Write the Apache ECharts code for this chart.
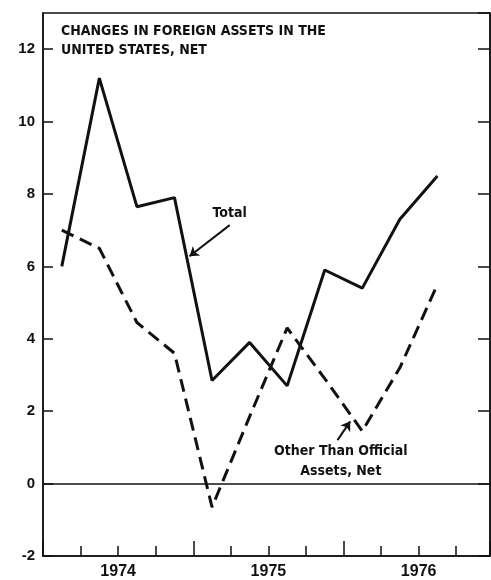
<!DOCTYPE html>
<html>
<head>
<meta charset="utf-8">
<script src="https://cdn.jsdelivr.net/npm/echarts@6/dist/echarts.min.js"></script>
<style>
  html, body { margin: 0; padding: 0; background: #fff; }
  #chart { width: 491px; height: 580px; }
</style>
</head>
<body>
<div id="chart"></div>
<script>
// quarterly data, 1974 Q1 .. 1976 Q3 (billions of dollars)
const quarters = ['1974 Q1', '1974 Q2', '1974 Q3', '1974 Q4', '1975 Q1', '1975 Q2', '1975 Q3', '1975 Q4', '1976 Q1', '1976 Q2', '1976 Q3']
const total = [6.0, 11.2, 7.65, 7.9, 2.85, 3.9, 2.7, 5.9, 5.4, 7.3, 8.5]
const otherThanOfficial = [7.0, 6.5, 4.45, 3.6, -0.65, 1.85, 4.3, 2.9, 1.45, 3.2, 5.5]
const years = ['1974', '1975', '1976']
const yTicks = [-2, 0, 2, 4, 6, 8, 10, 12]

const narrow = "'Liberation Sans Narrow', 'DejaVu Sans Condensed', 'Arial Narrow', sans-serif"
const ink = '#111'

// x axis runs in quarters; a point sits in the middle of its quarter
const toPoints = (vals) => vals.map((v, i) => [i + 0.5, v])

const chart = echarts.init(document.getElementById('chart'))

const option = {
  backgroundColor: '#fff',
  animation: false,
  title: {
    text: 'CHANGES IN FOREIGN ASSETS IN THE\nUNITED STATES, NET',
    left: 61,
    top: 22,
    padding: 0,
    textStyle: {
      color: ink,
      fontFamily: narrow,
      fontWeight: 'bold',
      fontSize: 14,
      lineHeight: 19,
    },
  },
  grid: {
    left: 43,
    right: 1,
    top: 13,
    bottom: 23,
    show: true,
    borderColor: ink,
    borderWidth: 1.5,
  },
  xAxis: [
    {
      type: 'value',
      position: 'bottom',
      min: 0,
      max: 11.9,
      interval: 1,
      axisLine: { show: true, onZero: false, lineStyle: { color: ink, width: 1.5 } },
      axisTick: { show: true, inside: true, length: 10, lineStyle: { color: ink, width: 1.5 } },
      splitLine: { show: false },
      axisLabel: {
        color: ink,
        fontFamily: 'Liberation Sans, Arial, sans-serif',
        fontWeight: 'bold',
        fontSize: 16,
        margin: 8,
        showMaxLabel: false,
        formatter: (v) => {
          const i = Math.round(v)
          if (Math.abs(v - i) > 1e-6) return ''
          // label each year at its middle (quarters 2, 6, 10)
          if (i % 4 === 2) return years[(i - 2) / 4] || ''
          return ''
        },
      },
    },
    {
      // longer ticks at the year boundaries
      type: 'value',
      position: 'bottom',
      min: 0,
      max: 11.9,
      interval: 4,
      axisLine: { show: false, onZero: false },
      axisTick: { show: true, inside: true, length: 15, lineStyle: { color: ink, width: 1.5 } },
      splitLine: { show: false },
      axisLabel: { show: false },
    },
  ],
  yAxis: [
    {
      type: 'value',
      min: -2,
      max: 13,
      interval: 2,
      axisLine: { show: true, onZero: false, lineStyle: { color: ink, width: 1.5 } },
      axisTick: { show: true, inside: true, length: 10, lineStyle: { color: ink, width: 1.5 } },
      splitLine: { show: false },
      axisLabel: {
        color: ink,
        fontFamily: 'Liberation Sans, Arial, sans-serif',
        fontWeight: 'bold',
        fontSize: 15,
        margin: 8,
        showMaxLabel: false,
        formatter: (v) => (yTicks.includes(v) ? String(v) : ''),
      },
    },
    {
      type: 'value',
      position: 'right',
      min: -2,
      max: 13,
      interval: 2,
      axisLine: { show: true, onZero: false, lineStyle: { color: ink, width: 1.5 } },
      axisTick: { show: true, inside: true, length: 12, lineStyle: { color: ink, width: 1.5 } },
      splitLine: { show: false },
      axisLabel: { show: false },
    },
  ],
  series: [
    {
      name: 'Total',
      type: 'line',
      data: toPoints(total),
      symbol: 'none',
      lineStyle: { color: ink, width: 3, type: 'solid' },
      markLine: {
        silent: true,
        symbol: 'none',
        label: { show: false },
        lineStyle: { color: ink, width: 1.5, type: 'solid' },
        data: [{ yAxis: 0 }],
      },
    },
    {
      name: 'Other Than Official Assets, Net',
      type: 'line',
      data: toPoints(otherThanOfficial),
      symbol: 'none',
      lineStyle: { color: ink, width: 3, type: [13, 7] },
      markLine: {
        silent: true,
        symbol: ['none', 'arrow'],
        symbolSize: 9,
        label: { show: false },
        lineStyle: { color: ink, width: 2, type: 'solid' },
        data: [
          [{ coord: [4.97, 7.14] }, { coord: [3.9, 6.28] }],
          [{ coord: [7.84, 1.2] }, { coord: [8.18, 1.72] }],
        ],
      },
      markPoint: {
        silent: true,
        symbol: 'circle',
        symbolSize: 0,
        label: {
          show: true,
          position: 'inside',
          color: ink,
          fontFamily: narrow,
          fontWeight: 'bold',
          fontSize: 14,
          lineHeight: 20,
          align: 'center',
        },
        data: [
          { coord: [4.97, 7.47], label: { formatter: 'Total' } },
          { coord: [7.93, 0.61], label: { formatter: 'Other Than Official\nAssets, Net' } },
        ],
      },
    },
  ],
}

chart.setOption(option)
</script>
</body>
</html>
